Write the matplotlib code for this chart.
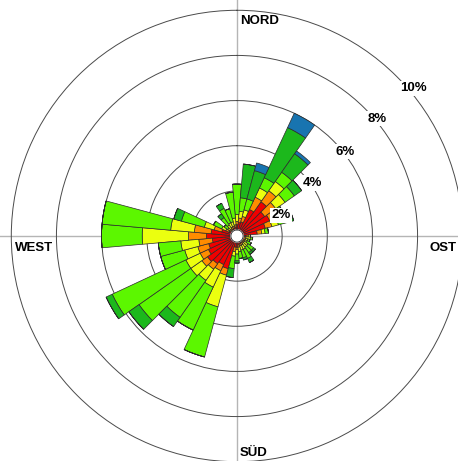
import numpy as np
import matplotlib
matplotlib.use("Agg")
import matplotlib.pyplot as plt

# direction sectors (degrees from north, clockwise)
directions = list(range(0, 360, 10))

# frequency (%) per speed class, one value per sector
red = [0.5, 0.6, 0.65, 1.3, 1.85, 1.5, 1.6, 1.3, 0.9, 0.4, 0.3, 0.3,
       0.3, 0.3, 0.3, 0.35, 0.35, 0.4, 0.5, 0.5, 1.5, 1.4, 1.5, 1.6,
       1.4, 1.3, 1.1, 1.35, 1.15, 0.7, 0.4, 0.3, 0.3, 0.35, 0.35, 0.4]
orange = [0.15, 0.2, 0.25, 0.6, 0.6, 0.6, 0.4, 0.3, 0.2, 0.1, 0.1, 0.1,
          0.1, 0.1, 0.1, 0.1, 0.1, 0.1, 0.1, 0.2, 0.3, 0.3, 0.3, 0.3,
          0.4, 0.5, 0.6, 0.8, 0.75, 0.35, 0.15, 0.1, 0.1, 0.1, 0.1, 0.1]
yellow = [0.3, 0.3, 0.3, 0.45, 0.5, 0.5, 0.2, 0.3, 0.15, 0.1, 0.2, 0.1,
          0.1, 0.2, 0.2, 0.2, 0.2, 0.2, 0.2, 0.2, 1.45, 0.8, 0.6, 0.6,
          0.7, 0.6, 0.8, 2.05, 1.05, 0.45, 0.2, 0.1, 0.2, 0.2, 0.2, 0.3]
lightgreen = [1.35, 0.6, 0.5, 0.5, 0.5, 0.5, 0.1, 0.4, 0.15, 0.0, 0.1, 0.1,
              0.2, 0.3, 0.3, 0.45, 0.35, 0.3, 0.3, 0.55, 2.3, 2.1, 2.0, 2.8,
              3.6, 1.1, 1.0, 1.8, 3.05, 1.05, 0.4, 0.2, 0.4, 0.7, 0.6, 1.15]
green = [0.0, 1.5, 1.3, 2.45, 1.0, 0.4, 0.0, 0.3, 0.0, 0.0, 0.0, 0.0,
         0.0, 0.1, 0.1, 0.2, 0.1, 0.0, 0.1, 0.4, 0.0, 0.0, 0.5, 0.55,
         0.3, 0.0, 0.0, 0.0, 0.0, 0.35, 0.0, 0.0, 0.2, 0.25, 0.0, 0.0]
blue = [0.0, 0.0, 0.35, 0.7, 0.15, 0.0, 0.0, 0.0, 0.0, 0.0, 0.0, 0.0,
        0.0, 0.0, 0.0, 0.0, 0.0, 0.0, 0.0, 0.0, 0.0, 0.0, 0.0, 0.0,
        0.0, 0.0, 0.0, 0.0, 0.0, 0.0, 0.0, 0.0, 0.0, 0.0, 0.0, 0.0]

classes = [red, orange, yellow, lightgreen, green, blue]
class_colors = ["#f00000", "#ff8c00", "#ebff0f", "#5cf700", "#1cb81c", "#1874b0"]

ring_values = [2, 4, 6, 8, 10]
ring_labels = ["2%", "4%", "6%", "8%", "10%"]
compass_labels = ["NORD", "OST", "SÜD", "WEST"]

W, H = 458, 461
fig = plt.figure(figsize=(W / 100, H / 100), dpi=100)
R_px = 237.0
cx, cy = 237.0, 236.0
ax = fig.add_axes([(cx - R_px) / W, (H - cy - R_px) / H, 2 * R_px / W, 2 * R_px / H],
                  projection="polar")
ax.set_theta_zero_location("N")
ax.set_theta_direction(-1)
ax.set_ylim(0, 10.5)
ax.spines["polar"].set_visible(False)
ax.set_facecolor("none")

theta = np.deg2rad(directions)
width = np.deg2rad(10)
bottom = np.zeros(len(directions))
for vals, col in zip(classes, class_colors):
    v = np.array(vals)
    ax.bar(theta, v, width=width, bottom=bottom, color=col,
           edgecolor="#2a2a2a", linewidth=0.5, zorder=3)
    bottom = bottom + v

# grid
ax.set_xticks(np.deg2rad([0, 90, 180, 270]))
ax.set_xticklabels([])
ax.xaxis.grid(True, color="#b5b5b5", linewidth=1.0, zorder=1)
ax.set_yticks(ring_values)
ax.set_yticklabels([])
ax.yaxis.grid(True, color="#4a4a4a", linewidth=0.7, zorder=1)
ax.tick_params(length=0)
ax.set_axisbelow(True)

# centre circle
circ_t = np.linspace(0, 2 * np.pi, 100)
ax.fill(circ_t, np.full_like(circ_t, 0.27), color="white", zorder=5)
ax.plot(circ_t, np.full_like(circ_t, 0.27), color="#222222", lw=0.6, zorder=6)

# ring labels
label_pos = [(65, 2.15), (55, 4.1), (52, 6.06), (50, 8.09), (50, 10.18)]
for (ang, rr), txt in zip(label_pos, ring_labels):
    ax.text(np.deg2rad(ang), rr, txt, ha="center", va="center", fontsize=9.5,
            fontweight="bold", family="Liberation Sans", zorder=7,
            bbox=dict(boxstyle="square,pad=0.12", fc="white", ec="none"))

# compass labels (pixel positions -> figure fraction)
comp_pos = {"NORD": (240, 21), "OST": (430, 247.5), "SÜD": (240, 452.5), "WEST": (15, 247.5)}
for name in compass_labels:
    px, py = comp_pos[name]
    fig.text(px / W, 1 - py / H, name, ha="left", va="center", fontsize=9.5,
             fontweight="bold", family="Liberation Sans")

fig.savefig("out.png", dpi=100, facecolor="white")
